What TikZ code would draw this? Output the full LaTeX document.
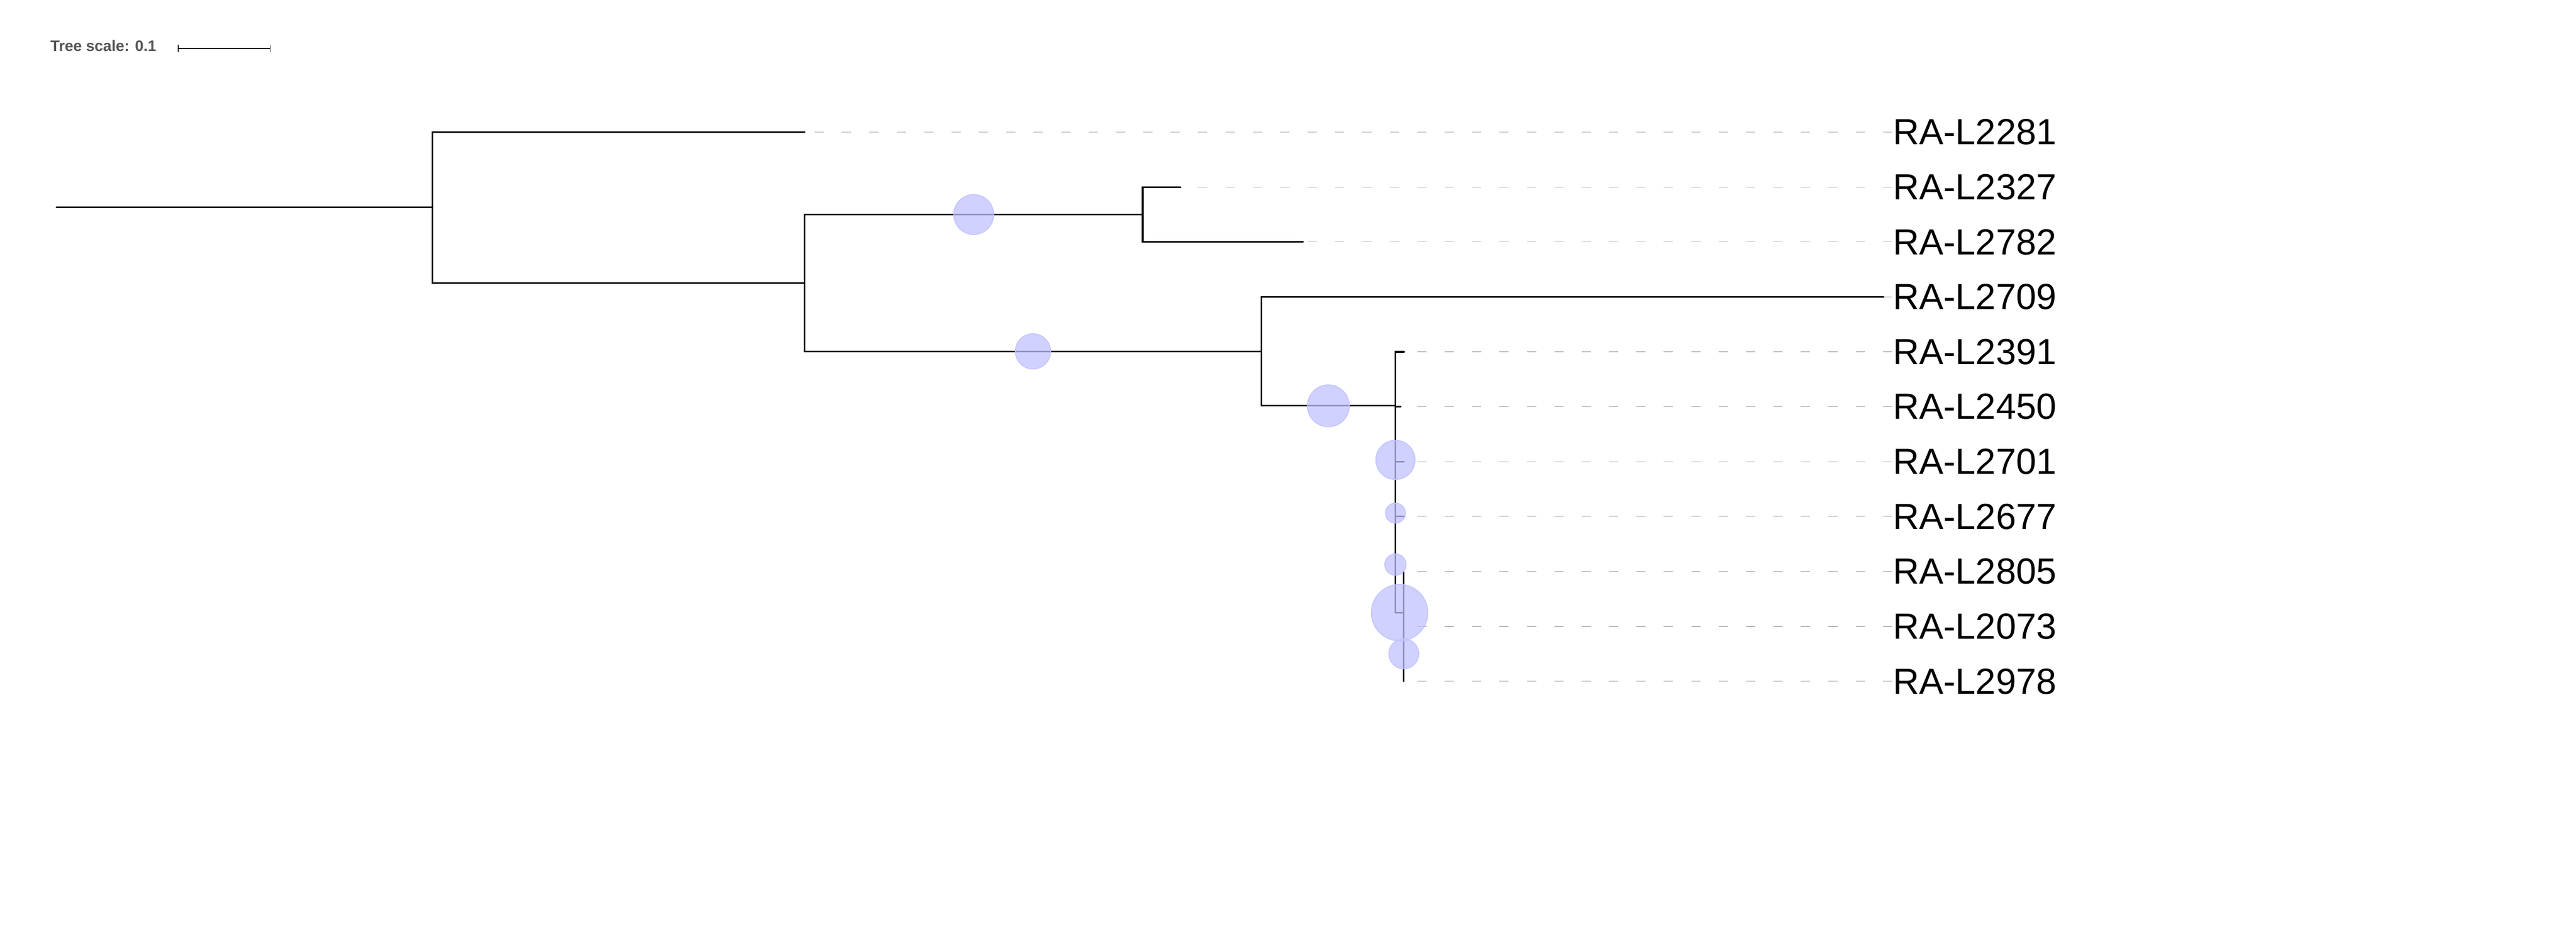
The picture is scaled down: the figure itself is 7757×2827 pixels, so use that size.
\documentclass[tikz,border=0pt]{standalone}
\usepackage{fontspec}
\setmainfont{Liberation Sans}
\usetikzlibrary{calc}
\definecolor{suppfill}{RGB}{194,194,255}
\definecolor{guidegray}{RGB}{170,170,170}
\definecolor{scalegray}{RGB}{85,85,85}

\begin{document}
\begin{tikzpicture}[x=0.1pt,y=-0.1pt,
    branch/.style={line width=0.48pt,line cap=round},
    guide/.style={draw=guidegray,line width=0.2pt,dash pattern=on 2.8pt off 5.45pt},
    support/.style={fill=suppfill,fill opacity=0.75,draw=suppfill,draw opacity=0.9,line width=0.3pt},
    leaflabel/.style={anchor=west,inner sep=0pt,text height=7.55pt,text depth=0pt,
        font=\fontsize{10.95pt}{13pt}\selectfont}]
    \useasboundingbox (0,0) rectangle (7757,2827);

    % scale
    \node[anchor=base west,inner sep=0pt,text=scalegray,font=\fontsize{4.6pt}{6pt}\selectfont\bfseries] (scalelbl) at (150,155) {Tree scale: 0.1};
    \coordinate (sbl) at (537,146);
    \coordinate (sbr) at (814,146);
    \draw[line width=0.2pt] (sbl) -- (sbr);
    \draw[line width=0.2pt] ($(sbl)+(0,-10.5)$) -- ($(sbl)+(0,10.5)$);
    \draw[line width=0.2pt] ($(sbr)+(0,-10.5)$) -- ($(sbr)+(0,10.5)$);

    % leaves
    \foreach \name/\row/\tip in {2281/1/2423, 2327/2/3555, 2782/3/3924, 2709/4/5672,
                                 2391/5/4228, 2450/6/4218, 2701/7/4228, 2677/8/4229,
                                 2805/9/4227, 2073/10/4227, 2978/11/4227} {
        \coordinate (t\name) at (\tip,{398+165.4*(\row-1)});
        \node[leaflabel] (l\name) at (5698,{398+165.4*(\row-1)}) {RA-L\name};
        \draw[guide] (l\name.west) -- (t\name);
    }

    % internal nodes
    \coordinate (root) at (170,625.1);
    \coordinate (nA) at (1303,625.1);
    \coordinate (nB) at (2423,852.2);
    \coordinate (nC) at (3441,646.1);
    \coordinate (nD) at (3798,1058.3);
    \coordinate (nE) at (4202,1222.4);
    \coordinate (nH) at (4202,1385.2);
    \coordinate (nI) at (4202,1545.5);
    \coordinate (nJ) at (4202,1700.5);
    \coordinate (nF) at (4227,1845.3);
    \coordinate (nG) at (4227,1969.3);

    \draw[branch] (root) -- (nA);
    \draw[branch] (nA) |- (t2281);
    \draw[branch] (nA) |- (nB);
    \draw[branch] (nB) |- (nC);
    \draw[branch] (nC) |- (t2327);
    \draw[branch] (nC) |- (t2782);
    \draw[branch] (nB) |- (nD);
    \draw[branch] (nD) |- (t2709);
    \draw[branch] (nD) |- (nE);
    \draw[branch] (nE) |- (t2391);
    \draw[branch] (nE) |- (nH);
    \draw[branch] (nH) |- (t2450);
    \draw[branch] (nH) |- (nI);
    \draw[branch] (nI) |- (t2701);
    \draw[branch] (nI) |- (nJ);
    \draw[branch] (nJ) |- (t2677);
    \draw[branch] (nJ) |- (nF);
    \draw[branch] (nF) |- (t2805);
    \draw[branch] (nF) |- (nG);
    \draw[branch] (nG) |- (t2073);
    \draw[branch] (nG) |- (t2978);

    % support symbols
    \filldraw[support] ($(nB|-nC)!.5!(nC)$) circle[radius=6pt];
    \filldraw[support] ($(nB|-nD)!.5!(nD)$) circle[radius=5.3pt];
    \filldraw[support] ($(nD|-nE)!.5!(nE)$) circle[radius=6.3pt];
    \filldraw[support] (nH) circle[radius=5.9pt];
    \filldraw[support] (nI) circle[radius=3pt];
    \filldraw[support] (nJ) circle[radius=3.2pt];
    \filldraw[support] ($(nJ|-nF)!.5!(nF)$) circle[radius=8.5pt];
    \filldraw[support] (nG) circle[radius=4.5pt];
\end{tikzpicture}
\end{document}
